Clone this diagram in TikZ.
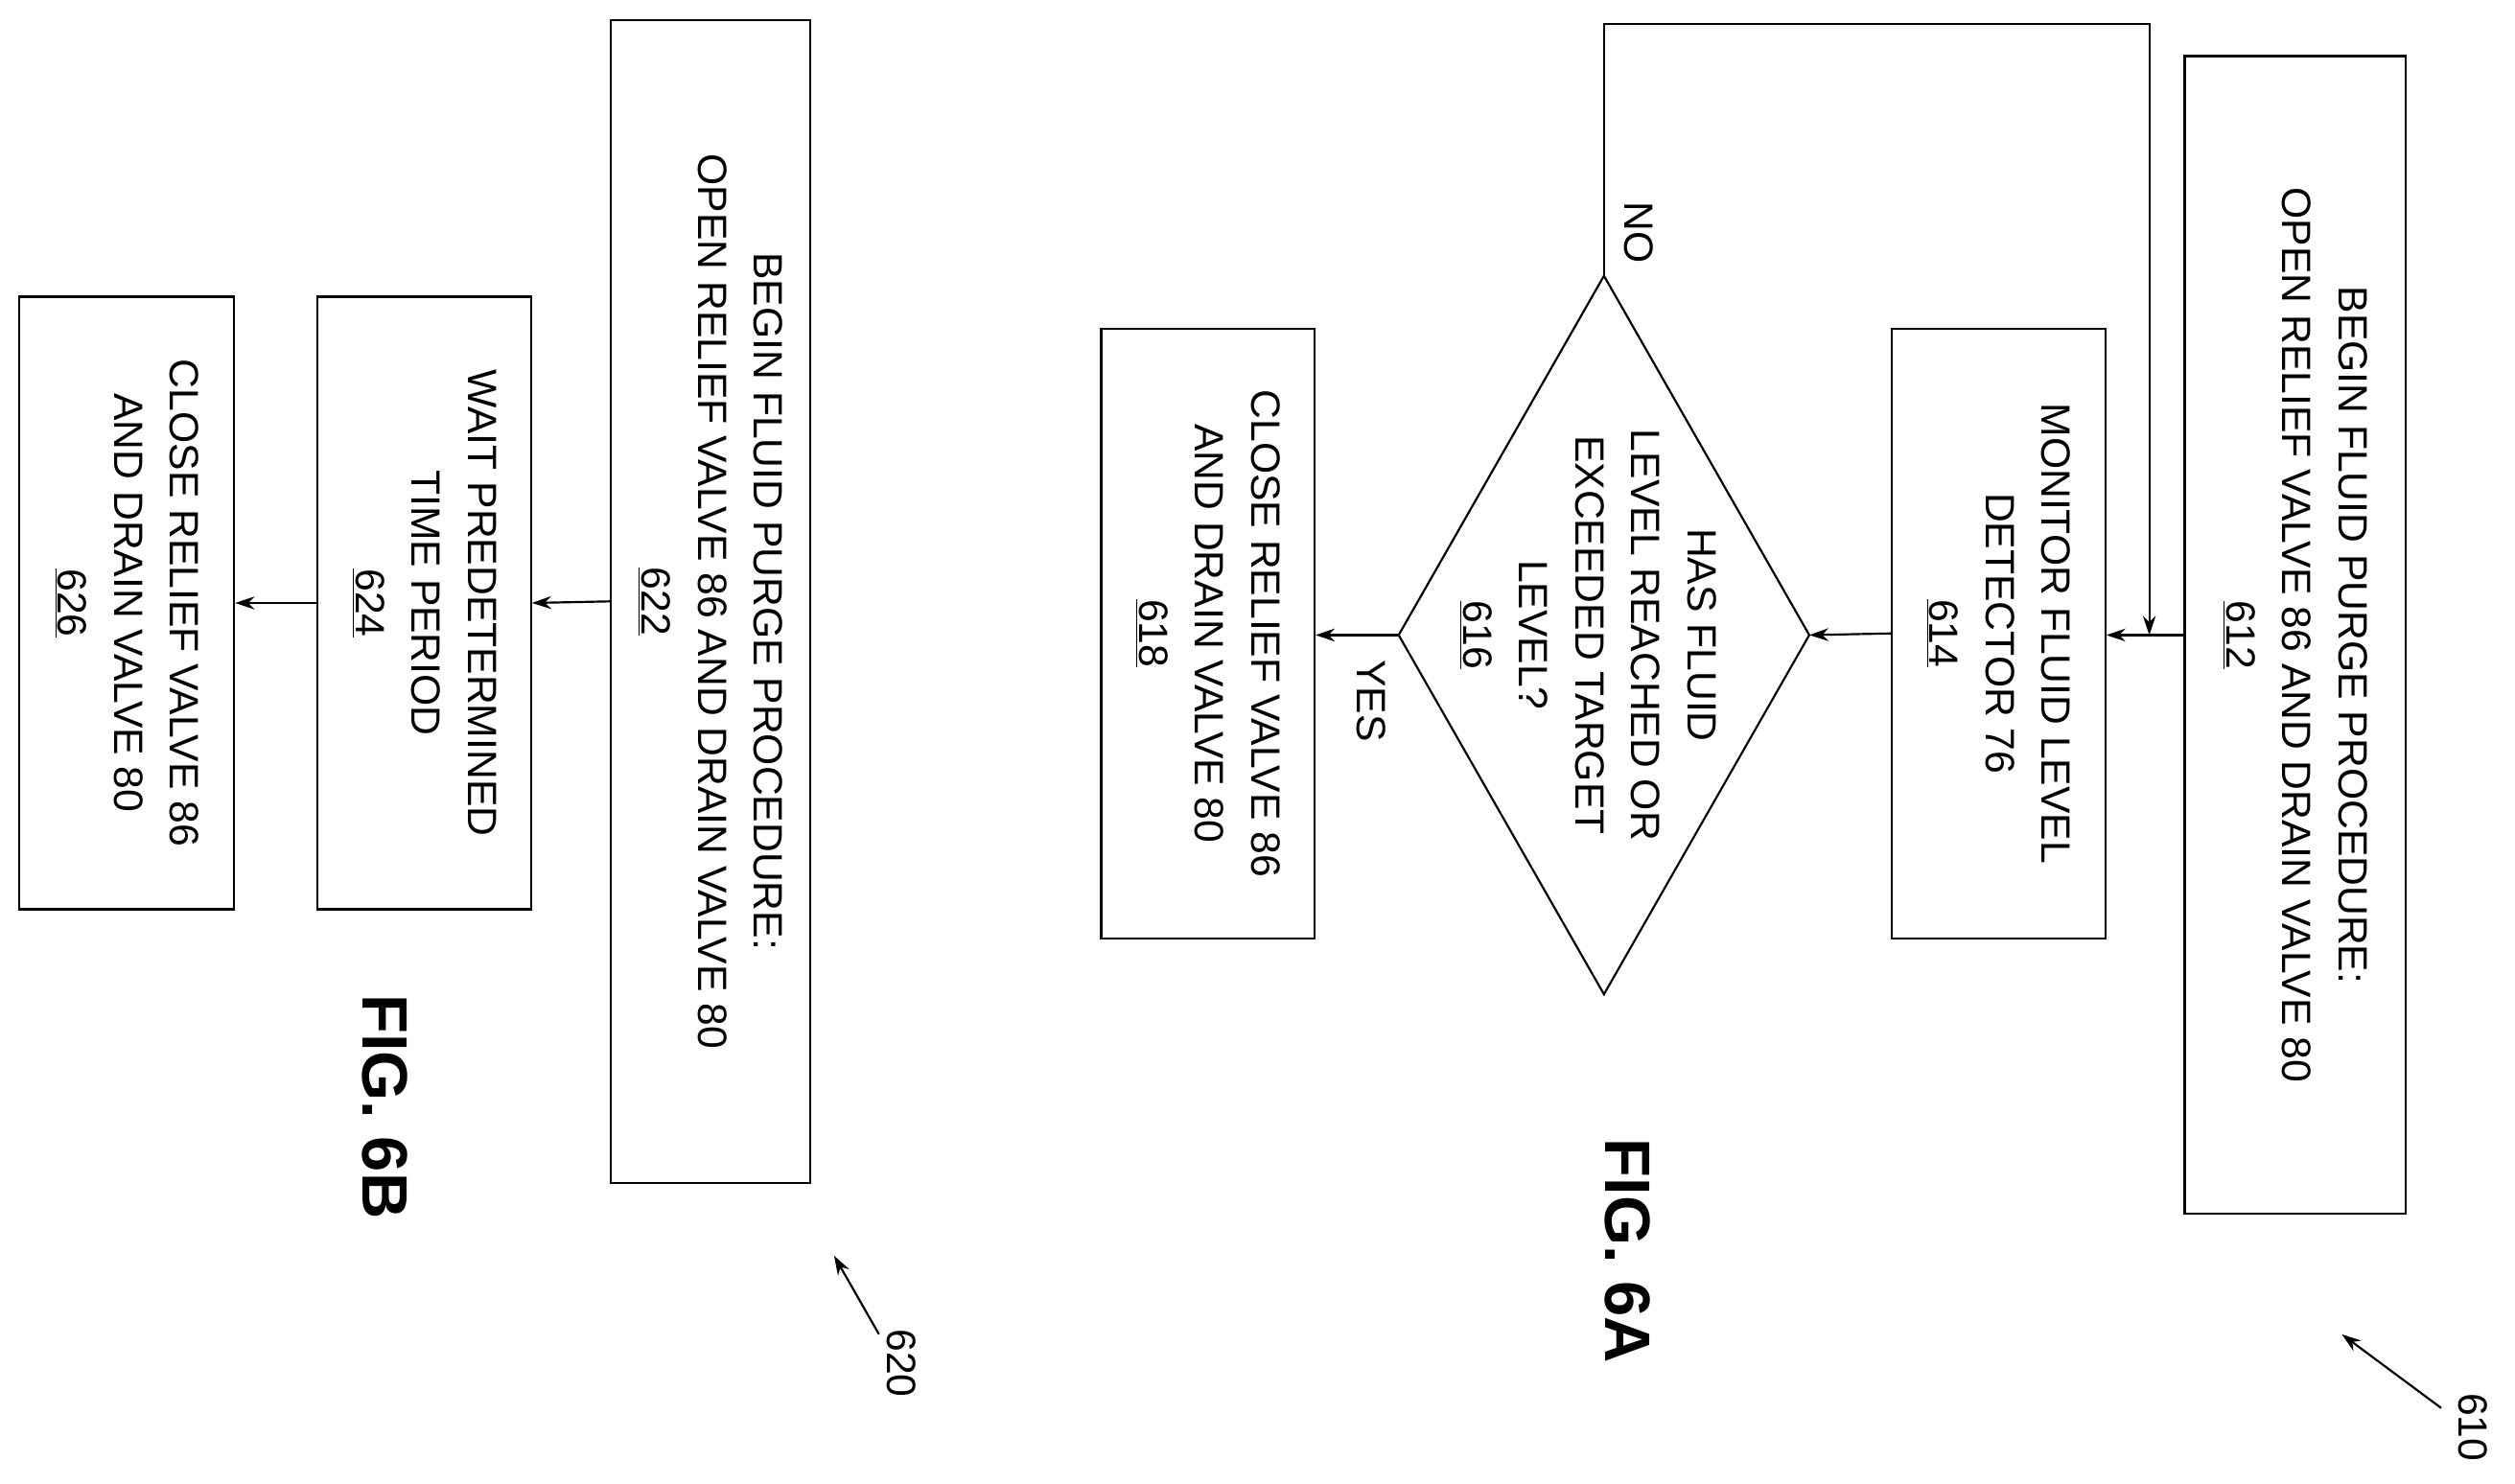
\documentclass[tikz,border=0pt]{standalone}
\usepackage{fontspec}
\setmainfont{Liberation Sans}
\usetikzlibrary{arrows.meta}
\begin{document}
\begin{tikzpicture}[x=1pt,y=1pt,
  box/.style={draw,line width=1.3pt,rotate=-90,align=center,inner sep=0pt,
    font=\fontsize{25.5}{35}\selectfont},
  lbl/.style={rotate=-90,align=center,inner sep=0pt,font=\fontsize{25.5}{35}\selectfont},
  fig/.style={rotate=-90,inner sep=0pt,font=\bfseries\fontsize{40}{44}\selectfont},
  arr/.style={line width=1.3pt,-{Stealth[length=12pt,width=8pt]}}]
\useasboundingbox (0,0) rectangle (1568,-925);
% FIG 6A
\node[box,minimum width=722,minimum height=138] (b612) at (1431,-396)
  {BEGIN FLUID PURGE PROCEDURE:\\OPEN RELIEF VALVE 86 AND DRAIN VALVE 80\\\underline{612}};
\node[box,minimum width=380,minimum height=133] (b614) at (1246,-395)
  {MONITOR FLUID LEVEL\\DETECTOR 76\\\underline{614}};
\coordinate (dT) at (1000,-172);
\coordinate (dB) at (1000,-620);
\coordinate (dL) at (872,-396);
\coordinate (dR) at (1128,-396);
\draw[line width=1.3pt] (dT)--(dR)--(dB)--(dL)--cycle;
\node[lbl] (t616) at (990,-396)
  {HAS FLUID\\LEVEL REACHED OR\\EXCEEDED TARGET\\LEVEL?\\\underline{616}};
\node[box,minimum width=380,minimum height=133] (b618) at (753,-395)
  {CLOSE RELIEF VALVE 86\\AND DRAIN VALVE 80\\\underline{618}};
\draw[arr] (b612.south) -- (dR -| b614.north);
\draw[arr] (b614.south) -- (dR);
\draw[arr] (dL) -- (dL -| b618.north);
\node[lbl] (yes) at (855,-437) {YES};
\coordinate (c1) at (1000,-15);
\coordinate (c2) at (1340,-15);
\coordinate (c3) at (1340,-396);
\draw[arr] (dT) -- (c1) -- (c2) -- (c3);
\node[lbl] (no) at (1022,-145) {NO};
\node[fig] (f6a) at (1015,-780) {FIG. 6A};
\node[lbl] (n610) at (1542,-890) {610};
\coordinate (a610) at (1522,-878);
\coordinate (e610) at (1460,-832);
\draw[arr] (a610) -- (e610);
% FIG 6B
\node[box,minimum width=725,minimum height=124] (b622) at (443,-375)
  {BEGIN FLUID PURGE PROCEDURE:\\OPEN RELIEF VALVE 86 AND DRAIN VALVE 80\\\underline{622}};
\node[box,minimum width=382,minimum height=133] (b624) at (264.5,-376)
  {WAIT PREDETERMINED\\TIME PERIOD\\\underline{624}};
\node[box,minimum width=382,minimum height=134] (b626) at (79,-376)
  {CLOSE RELIEF VALVE 86\\AND DRAIN VALVE 80\\\underline{626}};
\draw[arr] (b622.south) -- (b624.north);
\draw[arr] (b624.south) -- (b626.north);
\node[fig] (f6b) at (240,-690) {FIG. 6B};
\node[lbl] (n620) at (562,-850) {620};
\coordinate (a620) at (548,-832);
\coordinate (e620) at (520,-783);
\draw[arr] (a620) -- (e620);
\end{tikzpicture}
\end{document}
